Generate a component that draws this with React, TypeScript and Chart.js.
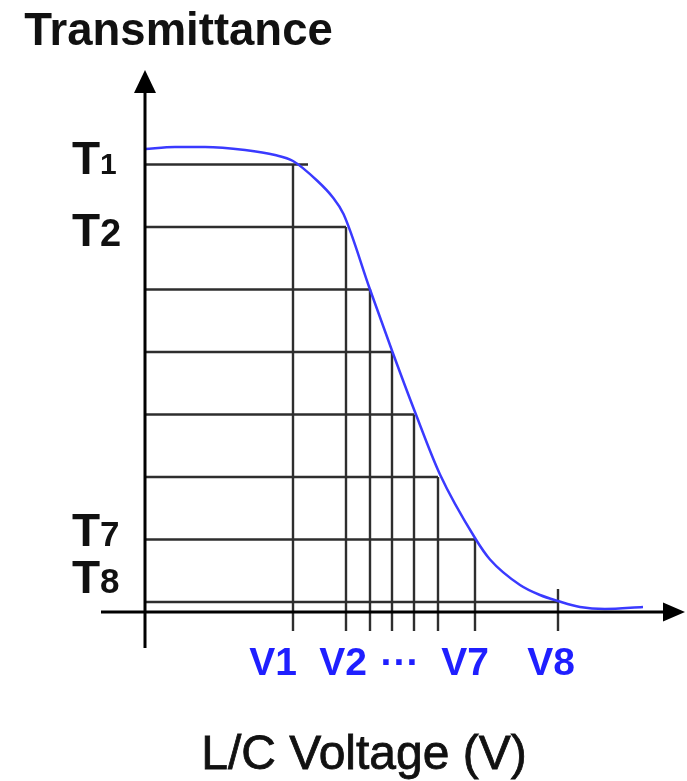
import { useEffect, useRef } from "react";
import { Chart, registerables } from "chart.js";

Chart.register(...registerables);

// Transmittance curve (voltage in arbitrary units, transmittance 0..1)
const voltages = [0, 0.6, 1.2, 2.0, 2.6, 2.96, 3.45, 3.75, 3.97, 4.5, 4.95, 5.4, 5.9, 6.6, 6.9, 7.5, 7.9, 8.26, 8.7, 9.2, 9.96];
const transmittance = [0.926, 0.93, 0.93, 0.924, 0.914, 0.902, 0.862, 0.83, 0.796, 0.645, 0.52, 0.4, 0.275, 0.148, 0.105, 0.054, 0.034, 0.022, 0.01, 0.006, 0.01];

// Gray levels: voltage steps V1..V8 and transmittance steps T1..T8
const vLevels = [2.96, 4.02, 4.5, 4.94, 5.38, 5.86, 6.6, 8.26];
const tLevels = [0.895, 0.77, 0.645, 0.52, 0.395, 0.27, 0.145, 0.02];
const hLineEnds = [3.26, 4.02, 4.5, 4.94, 5.38, 5.86, 6.6, 8.26];
const vLineTops = [0.895, 0.77, 0.645, 0.52, 0.395, 0.27, 0.145, 0.046];
const tickBottom = -0.038;

// Tick labels
const tLabels = ["T1", "T2", "", "", "", "", "T7", "T8"];
const vLabels = ["V1", "V2", "", "···", "", "", "V7", "V8"];

const yTitle = "Transmittance";
const xTitle = "L/C Voltage (V)";

const FONT = "'Liberation Sans', Arial, sans-serif";

export default function App() {
  const ref = useRef<HTMLCanvasElement | null>(null);

  useEffect(() => {
    document.body.style.margin = "0";
    const canvas = ref.current;
    if (!canvas) return;

    const tDigitSize = [30, 38, 0, 0, 0, 0, 35, 35];
    const tBaseOff = [9, 19, 0, 0, 0, 0, 6, -9];
    const vCenterOff = [-20, -3, 0, 8, 0, 0, -10, -7];

    const overlay = {
      id: "overlay",
      afterDatasetsDraw(chart: any) {
        const { ctx, chartArea, scales } = chart;
        const xs = scales.x;
        const ys = scales.y;
        const x0 = xs.getPixelForValue(0);
        const y0 = ys.getPixelForValue(0);
        ctx.save();
        ctx.strokeStyle = "#000";
        ctx.fillStyle = "#000";
        ctx.lineWidth = 3;
        // x axis with arrow
        const xl = chartArea.left + 1;
        const xr = chartArea.right;
        ctx.beginPath();
        ctx.moveTo(xl, y0);
        ctx.lineTo(xr - 18, y0);
        ctx.stroke();
        ctx.beginPath();
        ctx.moveTo(xr, y0);
        ctx.lineTo(xr - 22, y0 - 9.5);
        ctx.lineTo(xr - 22, y0 + 9.5);
        ctx.closePath();
        ctx.fill();
        // y axis with arrow
        const yt = chartArea.top;
        const yb = chartArea.bottom;
        ctx.beginPath();
        ctx.moveTo(x0, yb);
        ctx.lineTo(x0, yt + 18);
        ctx.stroke();
        ctx.beginPath();
        ctx.moveTo(x0, yt);
        ctx.lineTo(x0 - 11, yt + 23);
        ctx.lineTo(x0 + 11, yt + 23);
        ctx.closePath();
        ctx.fill();

        // T labels
        ctx.textAlign = "left";
        ctx.textBaseline = "alphabetic";
        tLabels.forEach((lab, i) => {
          if (!lab) return;
          const py = ys.getPixelForValue(tLevels[i]) + tBaseOff[i];
          ctx.font = `bold 46px ${FONT}`;
          ctx.fillStyle = "#111";
          const letter = lab.slice(0, 1);
          ctx.fillText(letter, 72, py);
          const w = ctx.measureText(letter).width;
          ctx.font = `bold ${tDigitSize[i]}px ${FONT}`;
          ctx.fillText(lab.slice(1), 72 + w, py);
        });

        // V labels
        ctx.textAlign = "center";
        ctx.fillStyle = "#1f1fff";
        ctx.font = `bold 39px ${FONT}`;
        vLabels.forEach((lab, i) => {
          if (!lab) return;
          const px = xs.getPixelForValue(vLevels[i]) + vCenterOff[i];
          ctx.fillText(lab, px, 675);
        });

        // Titles
        ctx.fillStyle = "#111";
        ctx.font = `bold 45.5px ${FONT}`;
        ctx.fillText(yTitle, 178.5, 45);
        ctx.font = `48px ${FONT}`;
        ctx.lineWidth = 0.8;
        ctx.strokeStyle = "#111";
        ctx.fillText(xTitle, 364, 769);
        ctx.strokeText(xTitle, 364, 769);
        ctx.restore();
      },
    };

    const guideStyle = {
      borderColor: "#2e2e2e",
      borderWidth: 2.4,
      pointRadius: 0,
      fill: false,
      tension: 0,
    };

    const datasets: any[] = [
      {
        label: "curve",
        data: voltages.map((v, i) => ({ x: v, y: transmittance[i] })),
        borderColor: "#3a3aff",
        borderWidth: 2.5,
        pointRadius: 0,
        fill: false,
        cubicInterpolationMode: "monotone",
      },
    ];
    tLevels.forEach((t, i) => {
      datasets.push({
        ...guideStyle,
        label: `h${i}`,
        data: [
          { x: 0, y: t },
          { x: hLineEnds[i], y: t },
        ],
      });
      datasets.push({
        ...guideStyle,
        label: `v${i}`,
        data: [
          { x: vLevels[i], y: vLineTops[i] },
          { x: vLevels[i], y: tickBottom },
        ],
      });
    });

    const chart = new Chart(canvas, {
      type: "line",
      data: { datasets },
      options: {
        responsive: false,
        animation: false,
        devicePixelRatio: 1,
        layout: { padding: { left: 100, right: 2, top: 70, bottom: 133 } },
        plugins: { legend: { display: false }, tooltip: { enabled: false }, title: { display: false } },
        scales: {
          x: { type: "linear", min: -0.9, max: 10.8, display: false },
          y: { type: "linear", min: -0.072, max: 1.084, display: false },
        },
      },
      plugins: [overlay],
    } as any);

    return () => chart.destroy();
  }, []);

  return (
    <div style={{ width: 687, height: 781, background: "#fff" }}>
      <canvas ref={ref} width={687} height={781} />
    </div>
  );
}
